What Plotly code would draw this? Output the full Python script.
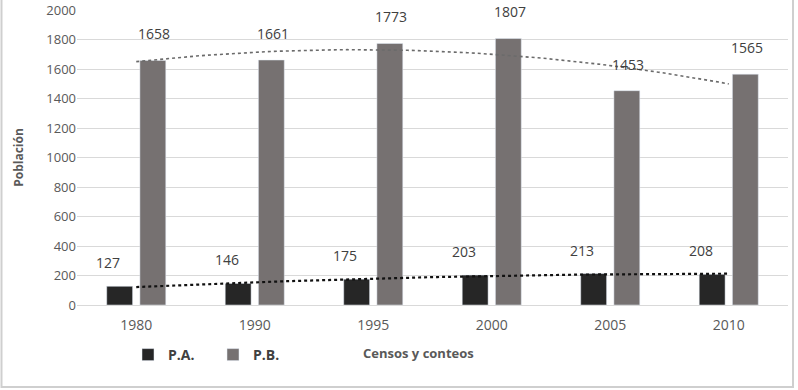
import numpy as np
import plotly.graph_objects as go

years = ["1980", "1990", "1995", "2000", "2005", "2010"]
pa = [127, 146, 175, 203, 213, 208]
pb = [1658, 1661, 1773, 1807, 1453, 1565]
y_ticks = [0, 200, 400, 600, 800, 1000, 1200, 1400, 1600, 1800, 2000]

idx = np.arange(len(years))
W, H = 798, 390
# plot area in page pixels
PX0, PX1, PY0, PY1 = 77, 788, 10, 305
L, R, T, B = PX0, W - PX1, PY0, H - PY1
pw, ph = PX1 - PX0, PY1 - PY0


def px(x):
    return (x - PX0) / pw


def py(y):
    return (PY1 - y) / ph


fig = go.Figure()
fig.add_bar(x=idx, y=pa, name="<b>P.A.</b>", marker_color="#262626", offsetgroup="a")
fig.add_bar(x=idx, y=pb, name="<b>P.B.</b>", marker_color="#767171", offsetgroup="b")

# polynomial (order 2) trendlines, as in the original spreadsheet chart
xx = np.linspace(0, len(years) - 1, 60)
for vals, col, w in [(pb, "#6b6b6b", 1.6), (pa, "#111111", 2.2)]:
    c = np.polyfit(idx + 1, vals, 2)
    fig.add_scatter(x=xx, y=np.polyval(c, xx + 1), mode="lines", showlegend=False,
                    line=dict(color=col, width=w, dash="dot"), hoverinfo="skip")

bar_off = 0.15
for i, v in enumerate(pa):
    fig.add_annotation(x=i - bar_off, y=v, text=str(v), showarrow=False, yanchor="bottom",
                       xshift=-10, yshift=12, font=dict(size=14, color="#404040"))
for i, v in enumerate(pb):
    fig.add_annotation(x=i + bar_off, y=v, text=str(v), showarrow=False, yanchor="bottom",
                       yshift=15, font=dict(size=14, color="#404040"))

# x axis title placed like the original (beside the legend)
fig.add_annotation(xref="paper", yref="paper", x=px(418), y=py(353), showarrow=False,
                   xanchor="center", yanchor="middle",
                   text="<b>Censos y conteos</b>", font=dict(size=13, color="#595959"))

# outer border of the chart area
fig.add_shape(type="rect", xref="paper", yref="paper",
              x0=px(1.5), x1=px(793), y0=py(387), y1=py(-4),
              line=dict(color="#cfcfcf", width=2), layer="below")

fig.update_layout(
    width=W, height=H,
    margin=dict(l=L, r=R, t=T, b=B, autoexpand=False),
    paper_bgcolor="white", plot_bgcolor="white",
    barmode="group", bargap=0.44, bargroupgap=0.22,
    font=dict(family="Open Sans, Noto Sans, sans-serif", color="#595959", size=13),
    legend=dict(orientation="h", x=px(128), y=py(339),
                xanchor="left", yanchor="top", font=dict(size=14, color="#404040"),
                entrywidth=40, entrywidthmode="pixels", bgcolor="rgba(0,0,0,0)"),
    xaxis=dict(tickmode="array", tickvals=list(idx), ticktext=years, range=[-0.5, 5.5],
               showgrid=False, zeroline=False, ticks="", tickfont=dict(size=14, color="#595959"),
               ticklabelstandoff=7, showline=True, linecolor="#d9d9d9"),
    yaxis=dict(range=[0, 2000], tickmode="array", tickvals=y_ticks, showgrid=True,
               gridcolor="#d9d9d9", gridwidth=1, zeroline=False, ticks="",
               tickfont=dict(size=13, color="#595959"),
               title=dict(text="<b>Población</b>", font=dict(size=12, color="#595959"),
                          standoff=20)),
)

fig.write_html("out.html", config={"displayModeBar": False},
               post_script="document.body.style.margin='0';")
